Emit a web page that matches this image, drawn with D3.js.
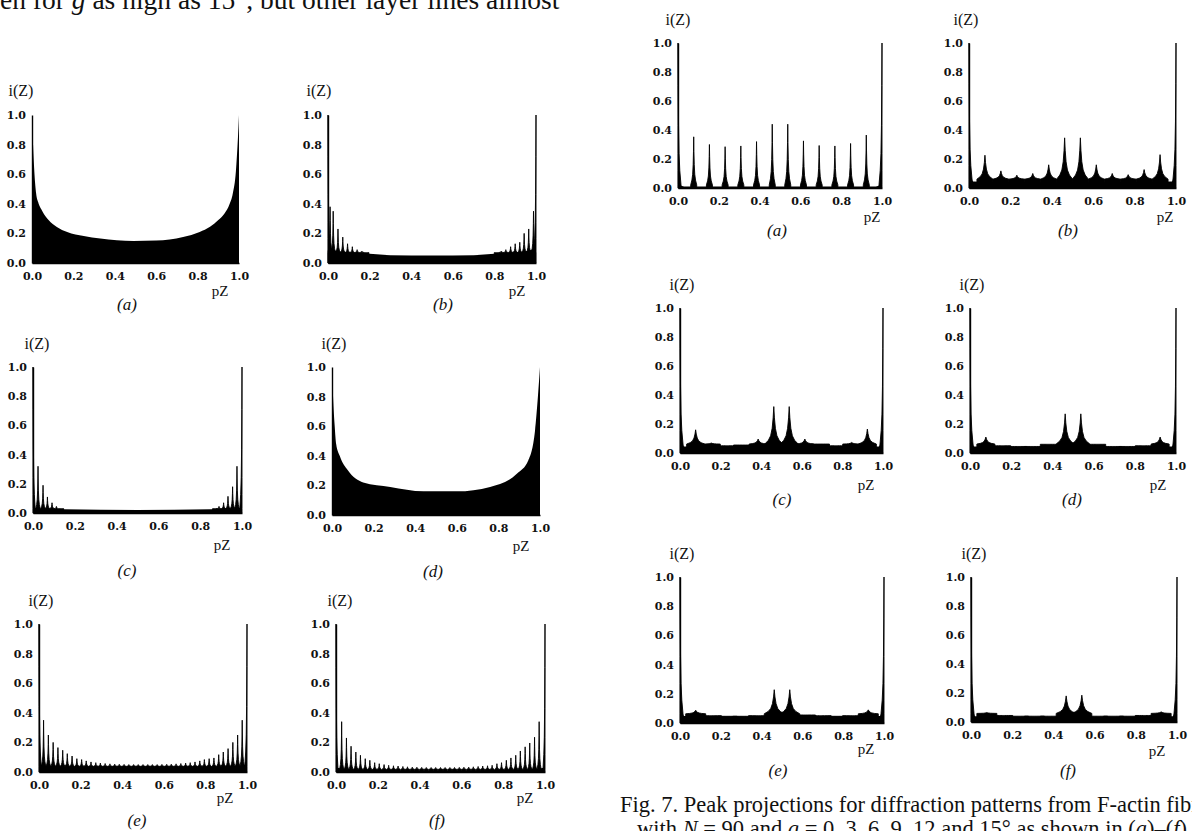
<!DOCTYPE html>
<html><head><meta charset="utf-8">
<script src="https://cdn.jsdelivr.net/npm/d3@7"></script>
<style>
html,body{margin:0;padding:0;background:#fff;}
svg{display:block;}
.tick text{font-family:"DejaVu Serif",serif;font-weight:bold;font-size:11px;fill:#111;}
.lab{font-family:"Liberation Serif","Times New Roman",serif;fill:#111;}
</style></head>
<body>
<svg id="c" width="1192" height="831"></svg>
<script>
// ---------- DATA ----------
const xTicks = [0.0,0.2,0.4,0.6,0.8,1.0];
const yTicks = [0.0,0.2,0.4,0.6,0.8,1.0];
const panelLetters = ["a","b","c","d","e","f"];

// Left figure: smooth profiles (a) and (d)
const L_a_profile = [[0,1.0],[0.005,0.8],[0.012,0.6],[0.02,0.47],[0.03,0.41],[0.05,0.35],[0.08,0.29],[0.12,0.244],[0.17,0.21],[0.25,0.183],[0.33,0.165],[0.49,0.149],[0.6,0.152],[0.73,0.176],[0.81,0.21],[0.86,0.245],[0.9,0.29],[0.93,0.335],[0.955,0.40],[0.97,0.47],[0.985,0.62],[0.995,0.85],[1.0,1.0]];
const L_d_profile = [[0,1.0],[0.005,0.8],[0.013,0.6],[0.02,0.48],[0.037,0.40],[0.077,0.30],[0.15,0.22],[0.28,0.19],[0.44,0.16],[0.6,0.16],[0.76,0.19],[0.89,0.28],[0.944,0.37],[0.976,0.57],[0.99,0.8],[1.0,1.0]];

// Left figure: background bands and spikes
const L_b_base = [[0,0.1],[0.05,0.08],[0.1,0.072],[0.2,0.062],[0.3,0.053],[0.5,0.05],[0.7,0.053],[0.8,0.062],[0.9,0.072],[0.95,0.08],[1,0.1]];
const L_b_peaks = [[0,1.0],[0.01,0.38],[0.025,0.35],[0.048,0.23],[0.071,0.175],[0.094,0.13],[0.117,0.11],[0.14,0.09],[0.163,0.08],[0.186,0.07],[0.81,0.07],[0.833,0.08],[0.855,0.09],[0.878,0.11],[0.9,0.13],[0.922,0.14],[0.943,0.2],[0.965,0.23],[0.988,0.35],[1,1.0]];

const L_c_base = [[0,0.04],[0.03,0.03],[0.15,0.025],[0.5,0.02],[0.85,0.025],[0.97,0.03],[1,0.04]];
const L_c_peaks = [[0,1.0],[0.024,0.32],[0.048,0.19],[0.069,0.11],[0.091,0.07],[0.112,0.045],[0.136,0.03],[0.87,0.03],[0.89,0.045],[0.912,0.07],[0.933,0.114],[0.955,0.18],[0.976,0.32],[1,1.0]];

const L_e_base = [[0,0.05],[0.05,0.04],[0.2,0.032],[0.5,0.03],[0.8,0.032],[0.95,0.04],[1,0.05]];
const L_e_peaks = [[0,1.0],[0.022,0.35],[0.045,0.25],[0.068,0.2],[0.091,0.165],[0.114,0.147],[0.136,0.124],[0.159,0.108],[0.182,0.09],[0.205,0.084],[0.227,0.075],[0.25,0.068],[0.273,0.063],[0.295,0.06],[0.318,0.057],[0.341,0.055],[0.364,0.053],[0.386,0.052],[0.409,0.051],[0.432,0.05],[0.455,0.05],[0.477,0.05],[0.5,0.05],[0.523,0.05],[0.545,0.05],[0.568,0.05],[0.591,0.051],[0.614,0.052],[0.636,0.053],[0.659,0.055],[0.682,0.057],[0.705,0.06],[0.727,0.063],[0.75,0.068],[0.773,0.075],[0.795,0.084],[0.818,0.09],[0.841,0.095],[0.864,0.117],[0.886,0.135],[0.909,0.158],[0.932,0.2],[0.955,0.25],[0.977,0.35],[1,1.0]];

const L_f_base = [[0,0.03],[0.05,0.02],[0.3,0.012],[0.5,0.01],[0.7,0.012],[0.95,0.02],[1,0.03]];
const L_f_peaks = [[0,1.0],[0.027,0.34],[0.05,0.23],[0.072,0.174],[0.095,0.135],[0.117,0.113],[0.14,0.09],[0.162,0.079],[0.185,0.063],[0.207,0.056],[0.23,0.05],[0.252,0.045],[0.275,0.042],[0.297,0.04],[0.32,0.037],[0.342,0.035],[0.365,0.033],[0.387,0.032],[0.41,0.031],[0.432,0.03],[0.455,0.03],[0.477,0.03],[0.5,0.03],[0.522,0.03],[0.545,0.03],[0.567,0.03],[0.59,0.031],[0.612,0.032],[0.635,0.033],[0.657,0.035],[0.68,0.037],[0.702,0.04],[0.725,0.042],[0.747,0.045],[0.77,0.056],[0.792,0.063],[0.815,0.079],[0.837,0.095],[0.86,0.113],[0.882,0.142],[0.905,0.17],[0.927,0.196],[0.95,0.235],[0.972,0.34],[1,1.0]];

// Right figure (Fig. 7): peak positions and heights
const R_peakPos = [0.077,0.154,0.231,0.308,0.385,0.462,0.538,0.615,0.692,0.769,0.846,0.923];
const R_a_heights = [0.353,0.30,0.285,0.29,0.32,0.44,0.44,0.325,0.293,0.29,0.307,0.365];
const R_b_heights = [0.226,0.118,0.088,0.10,0.16,0.346,0.346,0.16,0.10,0.092,0.127,0.23];
const R_c_heights = [0.16,0.069,0.05,0.055,0.096,0.32,0.32,0.096,0.062,0.05,0.073,0.165];
const R_d_heights = [0.11,0.05,0.045,0.045,0.06,0.27,0.27,0.06,0.045,0.045,0.05,0.11];
const R_e_heights = [0.087,0.05,0.046,0.046,0.05,0.228,0.228,0.055,0.05,0.046,0.05,0.09];
const R_f_heights = [0.065,0.045,0.04,0.04,0.04,0.18,0.185,0.04,0.04,0.04,0.045,0.07];
const R_endPeaks = [[0,1.0],[1,1.0]];
const R_a_base = [[0,0.04],[0.01,0.02],[0.03,0.01],[0.5,0.01],[0.97,0.01],[0.99,0.02],[1,0.04]];
const R_b_base = [[0,0.08],[0.012,0.07],[0.02,0.045],[0.5,0.038],[0.98,0.045],[0.988,0.07],[1,0.08]];
const R_c_base = [[0,0.08],[0.012,0.07],[0.02,0.045],[0.5,0.042],[0.98,0.045],[0.988,0.07],[1,0.08]];
const R_d_base = [[0,0.08],[0.012,0.07],[0.02,0.045],[0.5,0.042],[0.98,0.045],[0.988,0.07],[1,0.08]];
const R_e_base = [[0,0.08],[0.012,0.07],[0.02,0.048],[0.5,0.045],[0.98,0.048],[0.988,0.07],[1,0.08]];
const R_f_base = [[0,0.08],[0.012,0.07],[0.02,0.04],[0.5,0.035],[0.98,0.04],[0.988,0.07],[1,0.08]];

const topText = ["en for ", "g", " as high as 15°, but other layer lines almost"];
const caption1 = "Fig. 7. Peak projections for diffraction patterns from F-actin fibres";
const caption2 = [["with ",0],["N",1],[" = 90 and ",0],["g",1],[" = 0, 3, 6, 9, 12 and 15° as shown in (",0],["a",1],[")–(",0],["f",1],[").",0]];

// ---------- LAYOUT (positions / styles) ----------
const svg = d3.select("#c");
const panels = [
 {key:"La", f:[32,239,115,263], iz:[21,96], pz:[220,296], lt:[127,310], profile:L_a_profile},
 {key:"Lb", f:[328,536,115,263], iz:[319,96], pz:[517,296], lt:[443,310], base:L_b_base, peaks:L_b_peaks, w:2.2},
 {key:"Lc", f:[33,242,367,513], iz:[37,349], pz:[222,550], lt:[127,576], base:L_c_base, peaks:L_c_peaks, w:2.2},
 {key:"Ld", f:[332,540,367,515], iz:[334,349], pz:[521,551], lt:[433,577], profile:L_d_profile},
 {key:"Le", f:[39,247,624,772], iz:[41,606], pz:[225,803], lt:[137,826], base:L_e_base, peaks:L_e_peaks, w:2.2},
 {key:"Lf", f:[336,545,624,772], iz:[340,606], pz:[525,803], lt:[437,826], base:L_f_base, peaks:L_f_peaks, w:2.0},
 {key:"Ra", f:[678,882,43,188], iz:[678,25], pz:[872,222], lt:[777,236], base:R_a_base, heights:R_a_heights, w:3},
 {key:"Rb", f:[969,1176,43,188], iz:[966,25], pz:[1165,222], lt:[1068,236], base:R_b_base, heights:R_b_heights, w:8},
 {key:"Rc", f:[680,883,308,453], iz:[682,290], pz:[866,490], lt:[782,505], base:R_c_base, heights:R_c_heights, w:9},
 {key:"Rd", f:[970,1176,308,453], iz:[972,290], pz:[1158,490], lt:[1072,505], base:R_d_base, heights:R_d_heights, w:9},
 {key:"Re", f:[680,884,577,723], iz:[682,559], pz:[866,754], lt:[778,776], base:R_e_base, heights:R_e_heights, w:10},
 {key:"Rf", f:[971,1177,577,722], iz:[974,559], pz:[1157,756], lt:[1068,776], base:R_f_base, heights:R_f_heights, w:10}
];

const offs = [-1,-0.6,-0.35,-0.18,-0.07,0,0.07,0.18,0.35,0.6,1];
const frs  = [0,0.1,0.22,0.42,0.7,1,0.7,0.42,0.22,0.1,0];

panels.forEach((p,i)=>{
  const [x0,x1,yt,yb] = p.f;
  const x = d3.scaleLinear().domain([0,1]).range([x0,x1]);
  const y = d3.scaleLinear().domain([0,1]).range([yb,yt]);
  const g = svg.append("g");
  const area = d3.area().x(d=>x(d[0])).y0(y(0)).y1(d=>y(d[1]));
  if (p.profile) {
    g.append("path").datum(p.profile).attr("d", area.curve(d3.curveMonotoneX)).attr("fill","#000");
  }
  if (p.base) {
    g.append("path").datum(p.base).attr("d", area.curve(d3.curveMonotoneX)).attr("fill","#000");
    let pk = p.peaks ? p.peaks : R_peakPos.map((v,k)=>[v,p.heights[k]]).concat(R_endPeaks);
    const floor = d3.mean(p.base, d=>d[1]);
    pk.forEach(q=>{
      const px = x(q[0]), pt = y(q[1]), w = (q[1]>=0.99) ? Math.min(p.w,3) : p.w;
      const pf = y(Math.min(floor, q[1]));
      const pts = [[px - w, y(0)]];
      offs.forEach((o,k)=>pts.push([px + o*w, pf + (pt - pf)*frs[k]]));
      pts.push([px + w, y(0)]);
      const cl = pts.map(d=>[Math.max(x0, Math.min(x1, d[0])), d[1]]);
      g.append("path").attr("d", d3.line()(cl) + "Z")
        .attr("fill","#000").attr("stroke","#000").attr("stroke-width",0.9).attr("stroke-linejoin","round");
    });
  }
  // axes
  const ax = g.append("g").attr("transform",`translate(0,${yb})`)
    .call(d3.axisBottom(x).tickValues(xTicks).tickSize(0).tickSizeOuter(0).tickPadding(9).tickFormat(d3.format(".1f")));
  const ay = g.append("g").attr("transform",`translate(${x0},0)`)
    .call(d3.axisLeft(y).tickValues(yTicks).tickSize(0).tickSizeOuter(0).tickPadding(6).tickFormat(d3.format(".1f")));
  [ax,ay].forEach(a=>a.select(".domain").attr("stroke","#000").attr("stroke-width",1.4));
  // labels
  g.append("text").attr("class","lab").attr("x",p.iz[0]).attr("y",p.iz[1]).attr("text-anchor","middle").attr("font-size",16).text("i(Z)");
  g.append("text").attr("class","lab").attr("x",p.pz[0]).attr("y",p.pz[1]).attr("text-anchor","middle").attr("font-size",15).text("pZ");
  g.append("text").attr("class","lab").attr("x",p.lt[0]).attr("y",p.lt[1]).attr("text-anchor","middle").attr("font-size",17).attr("font-style","italic").text("(" + panelLetters[i%6] + ")");
});

// running text at top (cut, as in the scanned page) and caption
const tt = svg.append("text").attr("class","lab").attr("x",0).attr("y",9).attr("font-size",27.5);
topText.forEach((s,k)=>tt.append("tspan").attr("font-style", k===1?"italic":"normal").text(s));
svg.append("text").attr("class","lab").attr("x",620).attr("y",812).attr("font-size",22.5).text(caption1);
const c2 = svg.append("text").attr("class","lab").attr("x",637).attr("y",836).attr("font-size",22.5);
caption2.forEach(s=>c2.append("tspan").attr("font-style", s[1]?"italic":"normal").text(s[0]));
</script>
</body></html>
